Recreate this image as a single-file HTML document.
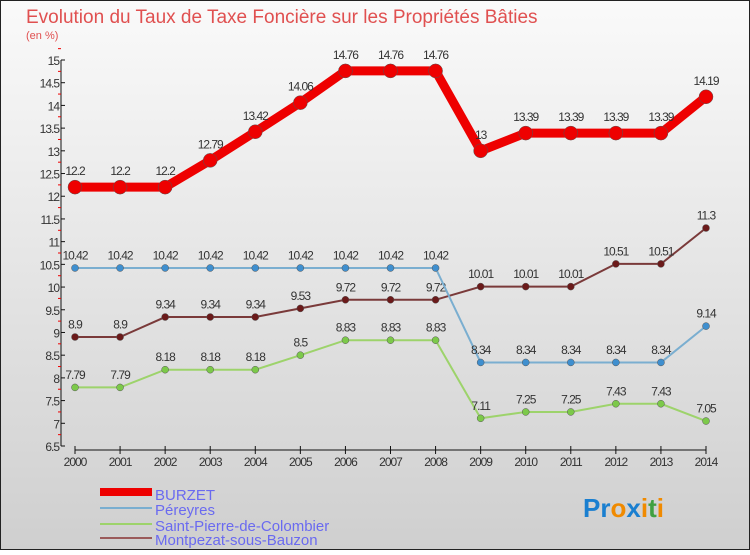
<!DOCTYPE html>
<html><head><meta charset="utf-8">
<style>
body{margin:0;width:750px;height:550px;overflow:hidden;font-family:"Liberation Sans",sans-serif}
svg text{font-family:"Liberation Sans",sans-serif}
</style></head>
<body>
<svg width="750" height="550">
<defs><linearGradient id="bg" x1="0" y1="0" x2="0" y2="1"><stop offset="0" stop-color="#fafafa"/><stop offset="1" stop-color="#cfcfcf"/></linearGradient></defs>
<rect x="0.5" y="0.5" width="749" height="549" fill="url(#bg)" stroke="#222"/>
<text x="26" y="23" font-size="19" fill="#e05050">Evolution du Taux de Taxe Foncière sur les Propriétés Bâties</text>
<text x="26" y="39" font-size="11" fill="#e05050">(en %)</text>
<g id="axes"></g>
<g id="series"></g>
<g>
<rect x="100" y="488" width="52" height="8" fill="#ee0000"/>
<text x="155" y="500" font-size="15" fill="#6a6af0">BURZET</text>
<rect x="100" y="507" width="52" height="2" fill="#7aaed0"/>
<text x="155" y="515" font-size="15" fill="#6a6af0">Péreyres</text>
<rect x="100" y="523" width="52" height="2" fill="#9dd36b"/>
<text x="155" y="531" font-size="15" fill="#6a6af0">Saint-Pierre-de-Colombier</text>
<rect x="100" y="537" width="52" height="2" fill="#9a5a5a"/>
<text x="155" y="545" font-size="15" fill="#6a6af0">Montpezat-sous-Bauzon</text>
</g>
<text x="583" y="517" font-size="26" font-weight="bold"><tspan fill="#1a7fd0">Pr</tspan><tspan fill="#f08a00">o</tspan><tspan fill="#1a7fd0">x</tspan><tspan fill="#f08a00">i</tspan><tspan fill="#40a040">t</tspan><tspan fill="#f08a00">i</tspan></text>
</svg>
<script>
const years=[2000,2001,2002,2003,2004,2005,2006,2007,2008,2009,2010,2011,2012,2013,2014];
const yTicks=[6.5,7,7.5,8,8.5,9,9.5,10,10.5,11,11.5,12,12.5,13,13.5,14,14.5,15];
const burzet=[12.2,12.2,12.2,12.79,13.42,14.06,14.76,14.76,14.76,13,13.39,13.39,13.39,13.39,14.19];
const pereyres=[10.42,10.42,10.42,10.42,10.42,10.42,10.42,10.42,10.42,8.34,8.34,8.34,8.34,8.34,9.14];
const saintPierre=[7.79,7.79,8.18,8.18,8.18,8.5,8.83,8.83,8.83,7.11,7.25,7.25,7.43,7.43,7.05];
const montpezat=[8.9,8.9,9.34,9.34,9.34,9.53,9.72,9.72,9.72,10.01,10.01,10.01,10.51,10.51,11.3];
const NS="http://www.w3.org/2000/svg";
const X=i=>75+i*(706-75)/14;
const Y=v=>446-(v-6.5)*(446-60)/8.5;
function mk(t,a,p){const e=document.createElementNS(NS,t);for(const k in a)e.setAttribute(k,a[k]);p.appendChild(e);return e;}
const ax=document.getElementById('axes');
let l=mk('line',{x1:61,y1:Y(15),x2:61,y2:Y(6.5),stroke:'#111'},ax);


yTicks.forEach(v=>{
  mk('line',{x1:61,y1:Y(v),x2:65,y2:Y(v),stroke:'#111'},ax);
  mk('line',{x1:58,y1:Y(v+0.25),x2:61,y2:Y(v+0.25),stroke:'#e00'},ax);
  const t=mk('text',{x:59,y:Y(v)+5,'font-size':12,'text-anchor':'end',fill:'#333','letter-spacing':'-1'},ax);
  t.textContent=String(v);
  
  
});
l=mk('line',{x1:X(0),y1:450,x2:X(14),y2:450,stroke:'#111'},ax);


years.forEach((y,i)=>{
  mk('line',{x1:X(i),y1:446,x2:X(i),y2:454,stroke:'#111'},ax);
  const t=mk('text',{x:X(i),y:466,'font-size':12,'text-anchor':'middle',fill:'#333','letter-spacing':'-1'},ax);
  t.textContent=String(y);
  
  
});
const sg=document.getElementById('series');
function draw(vals,name,line,dot,w,r){
  const g=mk('g',{},sg);
  
  
  const p=mk('polyline',{points:vals.map((v,i)=>X(i)+','+Y(v)).join(' '),fill:'none',stroke:line,'stroke-width':w},g);
  
  
  vals.forEach((v,i)=>{
    const c=mk('circle',{cx:X(i),cy:Y(v),r:r,fill:dot,stroke:'#555','stroke-width':0.5},g);
    
    
    const t=mk('text',{x:X(i),y:Y(v)-(r+5),'font-size':12,'text-anchor':'middle',fill:'#333','letter-spacing':'-1'},g);
    t.textContent=String(v);
    
    
  });
}
draw(saintPierre,'saint-pierre','#9dd36b','#7cc94a',2,3.5);
draw(montpezat,'montpezat','#7a3a3a','#6b1a1a',2,3.5);
draw(pereyres,'pereyres','#7aaed0','#3f8fcf',2,3.5);
draw(burzet,'burzet','#ee0000','#ee0000',9,7);
</script>
</body></html>
